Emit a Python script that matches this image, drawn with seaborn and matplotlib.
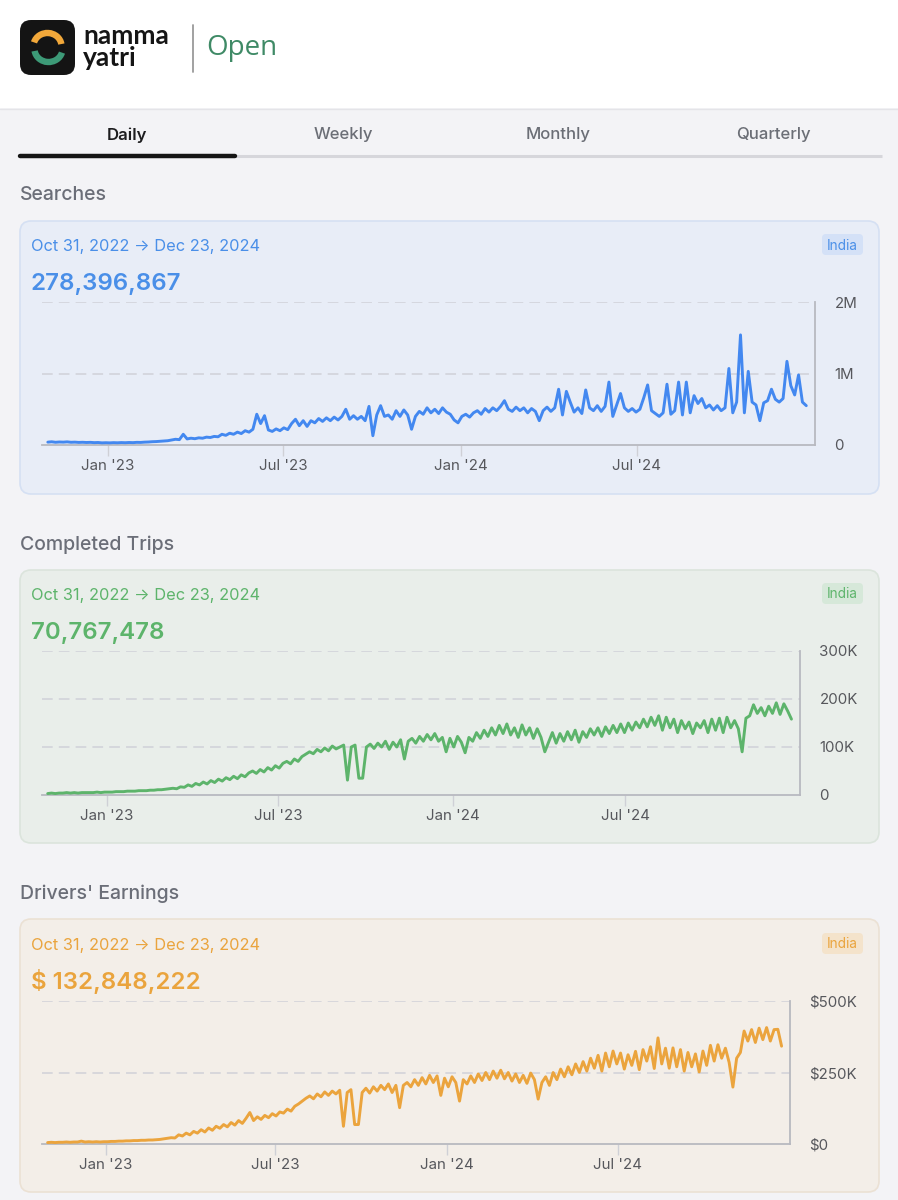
import numpy as np
import pandas as pd
import matplotlib
matplotlib.use("Agg")
import matplotlib.pyplot as plt
import seaborn as sns
from matplotlib.patches import FancyBboxPatch, Rectangle, Arc

# ---------------- data (values in thousands, one value every 4 days) ----------------
START = "2022-10-31"
END = "2024-12-23"

searches_k = [
    40, 45, 38, 42, 40, 44, 38, 40, 36, 38, 35, 37, 33, 35, 30, 32,
    30, 33, 31, 34, 32, 35, 33, 37, 36, 40, 42, 46, 48, 52, 55, 60,
    70, 80, 75, 150, 85, 95, 88, 100, 95, 110, 105, 120, 115,
    150, 135, 165, 150, 180, 160, 200, 180, 220,
    430, 300, 410,
    210, 190, 225, 200, 240, 215,
    300, 360, 270, 340, 260,
    340, 310, 370, 330, 380, 340, 390, 350, 400,
    500, 360, 410, 360, 400, 340, 540, 130, 420, 550, 400, 420, 360,
    480, 400, 490, 420, 220, 400, 470, 430, 520, 450, 500, 440, 520, 460, 430, 350, 310, 400, 430, 390, 450,
    480, 430, 510, 460, 520, 480, 540, 620,
    500, 470, 530, 480, 520, 450, 510, 470, 340,
    480, 530, 470, 520,
    780, 420, 750, 600, 460, 520, 440, 770, 520, 480, 550, 470, 540, 880, 400, 560, 720, 520, 470,
    510, 460, 500, 660, 840, 480, 440, 400, 450, 850, 430, 480, 880, 420, 880, 450, 690, 580, 650, 520,
    560, 490, 550, 480, 520, 1070, 450, 600, 1540, 450, 1030, 600, 560, 340, 590, 620, 780, 640, 600, 650,
    1170, 830, 700, 980, 600, 550,
]

trips_k = [
    3, 4, 3, 4, 4, 5, 4, 5, 4, 5, 5, 5, 5, 6, 5, 6,
    6, 6, 7, 7, 7, 8, 8, 8, 9, 9, 9, 10, 10, 11, 11, 12,
    13, 14, 13, 17, 16, 21, 18, 24, 21, 27, 23, 30, 26,
    33, 29, 36, 32, 39, 34, 42, 38, 46,
    50, 45, 53, 48, 57, 52, 61, 56, 66,
    70, 65, 75, 70, 80, 85,
    90, 86, 95, 90, 98, 92, 102, 96, 100,
    104, 31, 100, 104, 35, 35, 100, 106, 97, 108, 100, 112, 95, 110, 100, 115, 75, 112, 118, 108,
    122, 112, 126, 115, 128, 112, 120, 90, 118, 100, 122, 110, 88, 120,
    112, 130, 118, 135, 122, 140, 125, 145, 128, 148, 125, 140, 120, 146, 125, 140, 118, 138,
    120, 90, 110, 130, 108, 128, 112, 132, 115, 135, 110, 132, 120, 138, 125, 140, 122, 142, 128, 145,
    130, 148, 130, 150, 135, 152, 140, 158, 142, 162, 145, 165, 135, 162, 140, 158, 130, 155, 138, 152,
    128, 150, 140, 155, 130, 158, 135, 160, 130, 162, 140, 155, 138, 90, 160, 165, 188, 170, 182, 165,
    185, 170, 192, 168, 190, 175, 158,
]

earnings_k = [
    5, 6, 5, 6, 6, 7, 6, 7, 7, 10, 7, 8, 7, 8, 7, 8,
    8, 9, 9, 10, 10, 11, 11, 12, 12, 13, 13, 14, 14, 15, 16, 18,
    20, 22, 21, 32, 28, 38, 32, 44, 38, 50, 42, 56, 48,
    62, 55, 68, 60, 75, 66, 82, 72, 90,
    110, 82, 95, 86, 100, 92, 106, 98, 112, 108,
    122, 115, 132, 140, 150, 160,
    168, 158, 175, 165, 182, 170, 185, 175, 188,
    62, 180, 190, 68, 68, 180, 195, 178, 200, 185, 205, 190, 210, 180, 205, 127, 205, 215, 200, 225,
    205, 232, 210, 240, 215, 238, 170, 230, 200, 235, 215, 150, 225,
    210, 238, 215, 245, 222, 250, 225, 255, 230, 258, 228, 250, 220, 245, 215, 240, 212, 248, 225, 157,
    215, 235, 205, 250, 225, 262, 235, 270, 242, 280, 250, 288, 255,
    300, 265, 310, 255, 318, 270, 325, 280, 318, 262, 312, 275, 324, 260,
    330, 290, 340, 264, 371, 280, 335, 265,
    336, 270, 330, 255, 320, 270, 315, 252, 325, 275,
    345, 290, 347, 300, 335, 285,
    199, 300, 320, 395, 360, 400, 355, 405, 365, 407, 360, 400, 401, 342,
]

section_titles = ["Searches", "Completed Trips", "Drivers' Earnings"]
totals = ["278,396,867", "70,767,478", "$ 132,848,222"]
date_range_label = "Oct 31, 2022 \u2192 Dec 23, 2024"
tabs = ["Daily", "Weekly", "Monthly", "Quarterly"]

x_tick_dates = ["2023-01-01", "2023-07-01", "2024-01-01", "2024-07-01"]
x_tick_labels = ["Jan '23", "Jul '23", "Jan '24", "Jul '24"]

search_yticks = [0, 1_000_000, 2_000_000]
search_ylabels = ["0", "1M", "2M"]
trips_yticks = [0, 100_000, 200_000, 300_000]
trips_ylabels = ["0", "100K", "200K", "300K"]
earn_yticks = [0, 250_000, 500_000]
earn_ylabels = ["$0", "$250K", "$500K"]

dates = pd.date_range(START, END, freq="4D")
assert len(dates) == len(searches_k) == len(trips_k) == len(earnings_k)

# ---------------- style ----------------
sns.set_theme(style="white")
plt.rcParams["font.family"] = ["Inter", "DejaVu Sans"]

W, H = 898, 1200
fig = plt.figure(figsize=(W / 100, H / 100), dpi=100)
fig.patch.set_facecolor("#f3f3f6")

bg = fig.add_axes([0, 0, 1, 1])
bg.set_xlim(0, W)
bg.set_ylim(H, 0)
bg.axis("off")

# header
bg.add_patch(Rectangle((0, 0), W, 108, fc="white", ec="none"))
bg.plot([0, W], [108.5, 108.5], color="#e4e4e8", lw=1)
bg.add_patch(FancyBboxPatch((20, 20), 55, 55, boxstyle="round,pad=0,rounding_size=11",
                            fc="#141414", ec="none"))
bg.add_patch(Arc((47.5, 46), 28, 26, theta1=195, theta2=352, color="#f2a83a", lw=4.6))
bg.add_patch(Arc((48.5, 49), 28, 26, theta1=15, theta2=172, color="#3d9a77", lw=4.6))
bg.text(83, 44, "namma", fontsize=19, fontweight="bold", family=["Lato", "DejaVu Sans"],
        color="#151515", va="baseline", ha="left")
bg.text(83, 66, "yatri", fontsize=19, fontweight="bold", family=["Lato", "DejaVu Sans"],
        color="#151515", va="baseline", ha="left")
bg.plot([193, 193], [25, 72], color="#9a9a9a", lw=1.3)
bg.text(206, 55, "Open", fontsize=20, family=["Open Sans", "DejaVu Sans"], color="#3f8a66",
        va="baseline", ha="left")

# tabs
tab_x = [127, 343, 558, 773]
for i, (t, x) in enumerate(zip(tabs, tab_x)):
    bg.text(x, 135, t, fontsize=12, ha="center", va="center",
            color="#1d1d1f" if i == 0 else "#6b6e76",
            fontweight="semibold" if i == 0 else "medium")
bg.plot([20, 882], [156, 156], color="#d6d6db", lw=2.2, solid_capstyle="butt")
bg.plot([20, 235], [156, 156], color="#151515", lw=3.2, solid_capstyle="round")

# cards
cards = [
    dict(title_y=195, top=221, bottom=494, face="#e8edf7", edge="#d5e0f3", text="#4a8fe8",
         line="#4388f0", badge="#d4e1f7", ax_top=302, ax_bottom=445, ax_right=815,
         values=searches_k, yticks=search_yticks, ylabels=search_ylabels, dy=0),
    dict(title_y=545, top=570, bottom=843, face="#e9eeea", edge="#dbe4dc", text="#5db46b",
         line="#5db46b", badge="#d6e8d9", ax_top=651, ax_bottom=795, ax_right=800,
         values=trips_k, yticks=trips_yticks, ylabels=trips_ylabels, dy=349),
    dict(title_y=894, top=919, bottom=1192, face="#f3eee8", edge="#ebe1d4", text="#eaa43d",
         line="#eba43d", badge="#f4e3cb", ax_top=1001, ax_bottom=1144, ax_right=790,
         values=earnings_k, yticks=earn_yticks, ylabels=earn_ylabels, dy=699),
]

xmin, xmax = pd.Timestamp("2022-10-25"), pd.Timestamp("2025-01-01")

for title, total, c in zip(section_titles, totals, cards):
    bg.text(20, c["title_y"], title, fontsize=14, color="#6b6e78", va="center", ha="left",
            fontweight="medium")
    bg.add_patch(FancyBboxPatch((20, c["top"]), 859, c["bottom"] - c["top"],
                                boxstyle="round,pad=0,rounding_size=11",
                                fc=c["face"], ec=c["edge"], lw=1.2))
    bg.text(31, 251 + c["dy"], date_range_label, fontsize=11.8, color=c["text"],
            va="baseline", ha="left")
    bg.text(31, 290 + c["dy"], total, fontsize=17.3, color=c["text"], va="baseline",
            ha="left", fontweight="semibold")
    bg.add_patch(FancyBboxPatch((822, 234 + c["dy"]), 41, 21,
                                boxstyle="round,pad=0,rounding_size=4",
                                fc=c["badge"], ec="none"))
    bg.text(842.5, 249.5 + c["dy"], "India", fontsize=9.8, color=c["text"],
            va="baseline", ha="center")

    ax = fig.add_axes([42 / W, 1 - c["ax_bottom"] / H, (c["ax_right"] - 42) / W,
                       (c["ax_bottom"] - c["ax_top"]) / H])
    ax.set_facecolor("none")
    df = pd.DataFrame({"date": dates, "value": np.array(c["values"], dtype=float) * 1000})
    for v in c["yticks"][1:]:
        ax.axhline(v, color="#d0d1d8", lw=1.1, ls=(0, (7, 4)), zorder=0)
    sns.lineplot(data=df, x="date", y="value", ax=ax, color=c["line"], linewidth=2.1,
                 zorder=3)
    ax.set_xlim(xmin, xmax)
    ax.set_ylim(0, c["yticks"][-1])
    ax.set_yticks(c["yticks"])
    ax.set_yticklabels(c["ylabels"])
    ax.yaxis.tick_right()
    ax.tick_params(axis="y", length=0, pad=14, labelsize=10.8, labelcolor="#56575c")
    ax.set_xticks(pd.to_datetime(x_tick_dates))
    ax.set_xticklabels(x_tick_labels)
    ax.tick_params(axis="x", bottom=True, length=8, width=1, color="#cfd0d6", pad=2,
                   labelsize=10.8, labelcolor="#56575c")
    for s in ["top", "left"]:
        ax.spines[s].set_visible(False)
    for s in ["bottom", "right"]:
        ax.spines[s].set_color("#b8b9c0")
        ax.spines[s].set_linewidth(1.3)
    ax.set_xlabel("")
    ax.set_ylabel("")
    ax.grid(False)

fig.savefig("out.png", dpi=100, facecolor=fig.get_facecolor())
